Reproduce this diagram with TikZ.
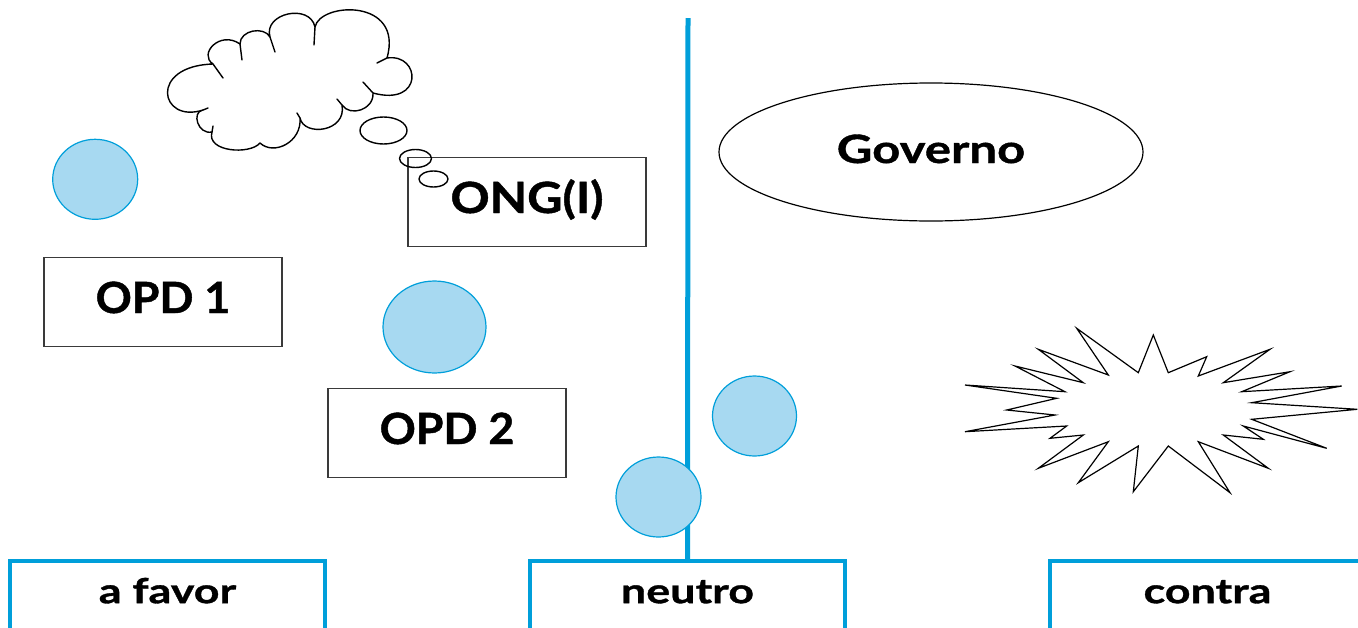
\documentclass[tikz,border=0pt]{standalone}
\usepackage{fontspec}
\usetikzlibrary{shapes.geometric}
% heavy humanist sans, widened per use
\newfontfamily\gillcaps{Lato}[UprightFont=* Bold, FakeStretch=1.04, FakeBold=1]
\newfontfamily\gillmid{Lato}[UprightFont=* Bold, FakeStretch=1.13, FakeBold=1]
\newfontfamily\gillwide{Lato}[UprightFont=* Bold, FakeStretch=1.26, FakeBold=1]
\newfontfamily\gillscale{Lato}[UprightFont=* Bold, FakeStretch=1.3, FakeBold=1]
\definecolor{lineblue}{HTML}{009FDA}
\definecolor{dotfill}{HTML}{A7D9F1}
\definecolor{boxgray}{HTML}{3A3A3A}
\tikzset{
  opdbox/.style={draw=boxgray, line width=1.3pt, minimum width=238pt, minimum height=89pt,
    inner sep=0pt, text height=31pt, text depth=9pt, font=\gillcaps\fontsize{43}{43}\selectfont},
  dot/.style={ellipse, draw=lineblue, line width=1.2pt, fill=dotfill, inner sep=0pt},
  govshape/.style={ellipse, draw=black, line width=1.2pt, minimum width=424pt, minimum height=138pt,
    inner sep=0pt, text height=31pt, text depth=9pt, font=\gillwide\fontsize{39}{39}\selectfont},
  scalebox/.style={anchor=north, minimum width=315pt, inner sep=0pt, text height=42pt, text depth=30pt,
    font=\gillscale\fontsize{34.5}{34.5}\selectfont},
  bracketside/.style={draw=lineblue, line width=3.5pt},
  brackettop/.style={draw=lineblue, line width=4.5pt},
  sketch/.style={draw=black, line width=1.4pt, line join=round, line cap=round},
}
\begin{document}
\begin{tikzpicture}[x=1pt, y=-1pt]
\useasboundingbox (0,0) rectangle (1358,627);
\clip (0,0) rectangle (1358,627);

% scale along the bottom: a favor / neutro / contra
\node[scalebox] (favor)  at (167.5,561) {a favor};
\node[scalebox] (neutro) at (687.5,561) {neutro};
\node[scalebox] (contra) at (1207.5,561) {contra};
\foreach \b in {favor,neutro,contra}{
  \draw[bracketside] (\b.south west) -- (\b.north west);
  \draw[bracketside] (\b.south east) -- (\b.north east);
  \draw[brackettop] ([xshift=-1.75pt]\b.north west) -- ([xshift=1.75pt]\b.north east);
}

% dividing line rising from "neutro"
\coordinate (linetop) at (688,18);
\draw[draw=lineblue, line width=5pt] (linetop) -- (neutro.north);

% actors
\node[opdbox] (opd1) at (163,302) {OPD 1};
\node[opdbox, font=\gillmid\fontsize{43}{43}\selectfont] (ong) at (527,202) {ONG(I)};
\node[opdbox] (opd2) at (447,433) {OPD 2};
\node[govshape] (gov) at (931,152) {Governo};

% positions on the scale
\node[dot, minimum width=85pt, minimum height=80pt]  (d1) at (95.2,179.3) {};
\node[dot, minimum width=103pt, minimum height=92pt] (d2) at (434.5,327) {};
\node[dot, minimum width=84pt, minimum height=80pt]  (d3) at (754.5,416) {};
\node[dot, minimum width=85pt, minimum height=80pt]  (d4) at (658.5,497) {};

% thought cloud above ONG(I)
\draw[sketch] (203,110) .. controls (160,124) and (148,66) .. (213,64)
  .. controls (198,54) and (220,30) .. (240,44)
  .. controls (240,30) and (264,26) .. (270,37)
  .. controls (263,13) and (310,3) .. (315,27)
  .. controls (320,2) and (404,-2) .. (387,58)
  .. controls (421,53) and (424,107) .. (373,93)
  .. controls (374,110) and (350,117) .. (342,105)
  .. controls (347,132) and (304,137) .. (300,118)
  .. controls (302,142) and (274,156) .. (260,143)
  .. controls (250,155) and (206,152) .. (212,132)
  .. controls (198,135) and (191,112) .. (203,110) -- cycle;
\draw[sketch] (213,64) -- (223,78);
\draw[sketch] (240,44) -- (242,60);
\draw[sketch] (270,37) -- (275,52);
\draw[sketch] (315,27) -- (314,45);
\draw[sketch] (387,58) -- (377,63);
\draw[sketch] (373,93) -- (363,82);
\draw[sketch] (342,105) -- (337,99);
\draw[sketch] (300,118) -- (297,113);
\draw[sketch] (212,132) -- (213,126);
\draw[sketch] (203,110) -- (208,108);
\draw[sketch] (383.5,130.5) ellipse [x radius=23.5, y radius=13.5];
\draw[sketch] (415.5,158.5) ellipse [x radius=16, y radius=9];
\draw[sketch] (433.5,179) ellipse [x radius=14.5, y radius=8];

% conflict burst
\draw[sketch, line width=1.2pt, line join=miter]
  (1056.7,398.3) -- (965,385) -- (1065,391.7) -- (1015,366) -- (1083.3,382.7)
  -- (1038.3,349.3) -- (1108.3,375) -- (1076.7,328.3) -- (1138.3,372.7)
  -- (1153.3,335) -- (1168.3,372.7) -- (1206.7,356.7) -- (1198.3,376)
  -- (1270,349.3) -- (1223.3,382.7) -- (1290,371.7) -- (1241.7,391.7)
  -- (1341.7,386) -- (1251.7,402.7) -- (1357.3,409.3) -- (1251.7,419.3)
  -- (1326.7,448.3) -- (1243.3,426) -- (1263.3,439.3) -- (1223.3,435)
  -- (1268.3,468.3) -- (1198.3,441.7) -- (1230,492.7) -- (1168.3,446)
  -- (1133.3,491.7) -- (1138.3,446) -- (1078.3,482.7) -- (1108.3,441.7)
  -- (1038.3,468.3) -- (1083.3,435) -- (1050,438.3) -- (1066.7,426)
  -- (965,431.7) -- (1055,415) -- (1006.7,410) -- cycle;
\end{tikzpicture}
\end{document}
